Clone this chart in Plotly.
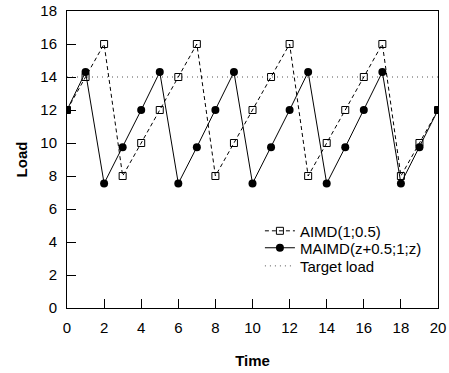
import plotly.graph_objects as go

time = list(range(0, 21))
aimd = [12, 14, 16, 8, 10, 12, 14, 16, 8, 10, 12, 14, 16, 8, 10, 12, 14, 16, 8, 10, 12]
maimd = [12, 14.3, 7.55, 9.75, 12, 14.3, 7.55, 9.75, 12, 14.3, 7.55, 9.75, 12, 14.3, 7.55, 9.75,
         12, 14.3, 7.55, 9.75, 12]
target_x = [0, 20]
target_y = [14, 14]
x_ticks = list(range(0, 21, 2))
y_ticks = list(range(0, 19, 2))

FONT = "Liberation Sans, Arial, sans-serif"

fig = go.Figure()
fig.add_trace(go.Scatter(x=time, y=aimd, mode="lines+markers", name="AIMD(1;0.5)",
                         legend="legend",
                         line=dict(color="black", width=1, dash="4px,3px"),
                         marker=dict(symbol="square-open", size=7, color="black",
                                     line=dict(width=1, color="black"))))
fig.add_trace(go.Scatter(x=time, y=maimd, mode="lines+markers", name="MAIMD(z+0.5;1;z)",
                         legend="legend2",
                         line=dict(color="black", width=1),
                         marker=dict(symbol="circle", size=8, color="black")))
fig.add_trace(go.Scatter(x=target_x, y=target_y, mode="lines", name="Target load",
                         legend="legend3",
                         line=dict(color="#555555", width=1, dash="1px,4px")))

axis_common = dict(showline=True, linecolor="black", linewidth=1, mirror=True,
                   ticks="inside", ticklen=9, tickcolor="black", tickwidth=1,
                   showgrid=False, zeroline=False, automargin=False,
                   ticklabelstandoff=6,
                   tickfont=dict(family=FONT, size=15, color="black"))

legend_common = dict(x=0.52, xanchor="left", yanchor="middle",
                     bgcolor="rgba(0,0,0,0)", borderwidth=0,
                     font=dict(family=FONT, size=15, color="black"),
                     itemwidth=30)

fig.update_layout(
    width=449, height=373,
    margin=dict(l=67, r=11, t=11, b=65),
    plot_bgcolor="white", paper_bgcolor="white",
    xaxis=dict(range=[0, 20], tickvals=x_ticks,
               title=dict(text="<b>Time</b>", font=dict(family=FONT, size=15, color="black"),
                          standoff=20),
               **axis_common),
    yaxis=dict(range=[0, 18], tickvals=y_ticks,
               title=dict(text="<b>Load</b>", font=dict(family=FONT, size=15, color="black"),
                          standoff=9),
               **axis_common),
    legend=dict(y=0.259, **legend_common),
    legend2=dict(y=0.202, **legend_common),
    legend3=dict(y=0.141, **legend_common),
    showlegend=True,
)

fig.write_html("out.html", config={"displayModeBar": False},
               post_script="document.body.style.margin='0';")
